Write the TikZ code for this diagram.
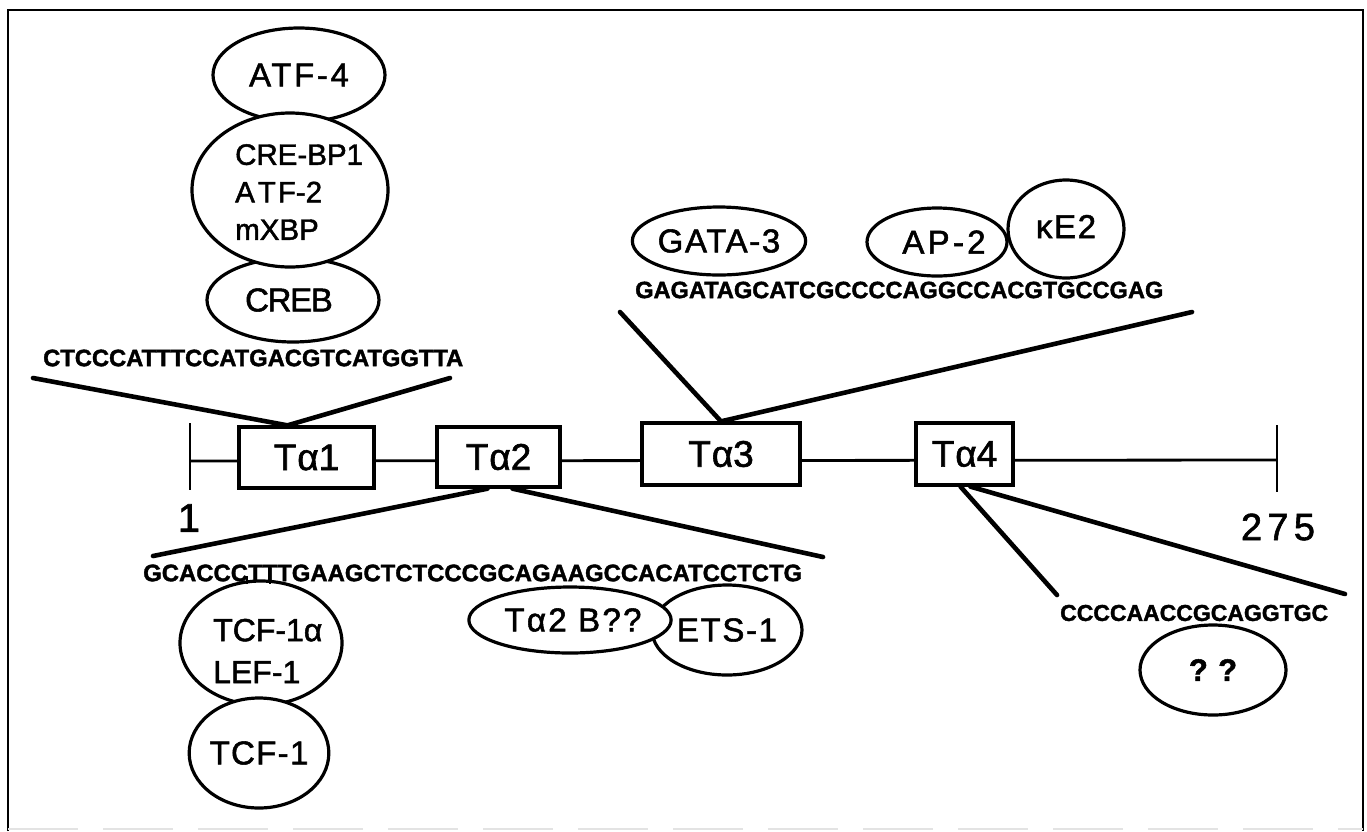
\documentclass[tikz,border=0pt]{standalone}
\usepackage{fontspec}
\setmainfont{Liberation Sans}[FakeBold=1.6]
\usetikzlibrary{shapes.geometric}
\newcommand{\seqtext}[2]{\resizebox{#1pt}{!}{\bfseries #2}}
\begin{document}
\begin{tikzpicture}[x=1pt,y=-1pt]
\tikzset{
 exon/.style={draw, line width=3.3pt, fill=white, inner sep=0pt, font=\fontsize{37}{40}\selectfont},
 bub/.style={draw, ellipse, line width=3.2pt, inner sep=0pt, fill=white, font=\fontsize{33}{36}\selectfont\addfontfeatures{LetterSpace=5}},
 lbl/.style={inner sep=0pt, align=left, anchor=west},
 seqtxt/.style={inner sep=0pt, anchor=west},
 conn/.style={line width=4.6pt, line cap=round},
 axisline/.style={line width=2.8pt},
 num/.style={inner sep=0pt, font=\fontsize{40}{44}\selectfont},
}
\useasboundingbox (0,0) rectangle (1367,831);
% frame
\draw[line width=1.6pt] (8,831) -- (8,10) -- (1363,10) -- (1363,831);
\draw[gray!22, line width=1.5pt, dash pattern=on 70pt off 25pt] (8,829) -- (1363,829);

% main axis
\coordinate (L) at (190,461);
\coordinate (R) at (1277,460);
\coordinate (Lt) at (190,423); \coordinate (Lb) at (190,490);
\coordinate (Rt) at (1277,425); \coordinate (Rb) at (1277,492);
\draw[axisline] (L) -- (R);
\draw[axisline] (Lt) -- (Lb);
\draw[axisline] (Rt) -- (Rb);

% exons
\node[exon, minimum width=135, minimum height=61] (t1) at (306.5,457.5) {T\kern1pt α1};
\node[exon, minimum width=123, minimum height=60] (t2) at (498.5,457) {T\kern1pt α2};
\node[exon, minimum width=158, minimum height=62] (t3) at (721,454) {T\kern1pt α3};
\node[exon, minimum width=97, minimum height=62] (t4) at (964.5,454) {T\kern1pt α4};

\node[num] (n1) at (189,518) {1};
\node[num, font=\fontsize{38}{44}\selectfont\addfontfeatures{LetterSpace=14}] (n275) at (1278,527) {275};

% sequence 1 and its factors
\node[seqtxt] (s1) at (43,358) {\seqtext{420}{CTCCCATTTCCATGACGTCATGGTTA}};
\coordinate (s1a) at (33,378);
\coordinate (s1b) at (450,378);
\draw[conn] (s1a) -- ([xshift=-19pt]t1.north) -- (s1b);

\node[bub, minimum width=172, minimum height=94, font=\fontsize{33}{36}\selectfont\addfontfeatures{LetterSpace=8}] (atf4) at (299,75) {ATF-4};
\node[bub, minimum width=172, minimum height=84, font=\fontsize{33}{36}\selectfont\addfontfeatures{LetterSpace=-4}] (creb) at (293,300) {\kern-8pt CREB};
\node[bub, minimum width=196, minimum height=154] (cre) at (290,190) {};
\node[lbl, font=\fontsize{29.5}{37.5}\selectfont] (cretxt) at (235,192) {CRE-BP1\\A\kern3pt T\kern2pt F-2\\mXBP};

% sequence 3 and its factors
\node[seqtxt] (s3) at (635,290) {\seqtext{528}{GAGATAGCATCGCCCCAGGCCACGTGCCGAG}};
\coordinate (s3a) at (620,312);
\coordinate (s3b) at (1192,312);
\draw[conn] (s3a) -- (t3.north) -- (s3b);
\node[bub, minimum width=168, minimum height=68] (gata) at (719,241) {GATA-3};
\node[bub, minimum width=140, minimum height=68, font=\fontsize{33}{36}\selectfont\addfontfeatures{LetterSpace=10}] (ap2) at (937,242) {\kern14pt AP-2};
\node[bub, minimum width=116, minimum height=98] (ke2) at (1066,229) {\raisebox{5pt}{κE2}};

% sequence 2 and its factors
\node[seqtxt] (s2) at (143,573) {\seqtext{659}{GCACCCTTTGAAGCTCTCCCGCAGAAGCCACATCCTCTG}};
\coordinate (s2a) at (153,556);
\coordinate (s2b) at (823,557);
\draw[conn] (s2a) -- ([xshift=-11pt]t2.south);
\draw[conn] ([xshift=14pt]t2.south) -- (s2b);
\node[bub, minimum width=162, minimum height=124] (tcf1a) at (261,643) {};
\node[bub, minimum width=138, minimum height=110, font=\fontsize{33}{36}\selectfont\addfontfeatures{LetterSpace=4}] (tcf1) at (259,753) {TCF-1};
\node[lbl, font=\fontsize{32}{42}\selectfont] (tcftxt) at (213,651) {TCF-1α\\LEF-1};
\draw[line width=2.2pt] (247,576) -- (247,584);
\draw[line width=2.2pt] (270,576) -- (270,584);
\node[bub, minimum width=150, minimum height=90, font=\fontsize{33}{36}\selectfont\addfontfeatures{LetterSpace=5}] (ets) at (727,630) {ETS-1};
\node[bub, minimum width=184, minimum height=66, font=\fontsize{33}{36}\selectfont\addfontfeatures{LetterSpace=7}] (t2b) at (570,620) {\kern6pt Tα2 B??};

% sequence 4 and its factor
\node[seqtxt] (s4) at (1060,613) {\seqtext{268}{CCCCAACCGCAGGTGC}};
\coordinate (s4a) at (1057,595);
\coordinate (s4b) at (1345,594);
\draw[conn] ([xshift=-4pt]t4.south) -- (s4a);
\draw[conn] ([xshift=6pt]t4.south) -- (s4b);
\node[bub, minimum width=146, minimum height=90, font=\fontsize{31}{36}\selectfont\bfseries] (unk) at (1213,670) {?\,\,?};
\end{tikzpicture}
\end{document}
